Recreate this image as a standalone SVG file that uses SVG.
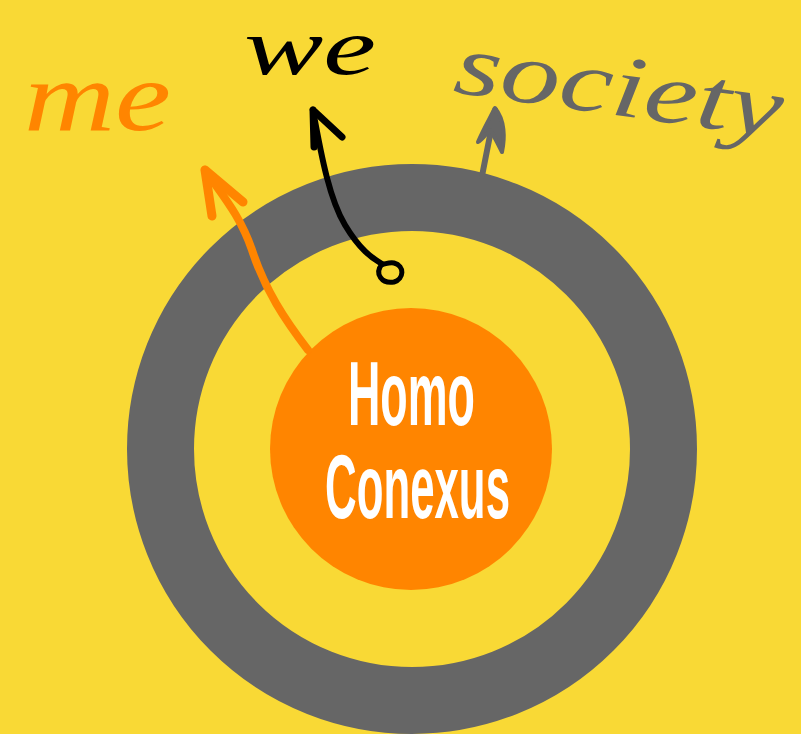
<svg xmlns="http://www.w3.org/2000/svg" width="801" height="734" viewBox="0 0 801 734">
<style>
.script{font-family:"Liberation Serif","DejaVu Serif",serif;font-style:italic;font-weight:normal}
.title{font-family:"Liberation Sans","Arial",sans-serif;font-weight:bold;fill:#ffffff;font-size:90px}
.arr{fill:none;stroke-linecap:round;stroke-linejoin:round}
</style>
<rect width="801" height="734" fill="#F9D935"/>
<g id="ring-society">
<circle cx="412" cy="449" r="251.5" fill="none" stroke="#666666" stroke-width="67"/>
</g>
<g id="core">
<circle cx="411" cy="449" r="141" fill="#FF8500"/>
<text class="title" x="411.5" y="425" text-anchor="middle" textLength="127" lengthAdjust="spacingAndGlyphs">Homo</text>
<text class="title" x="417.5" y="518" text-anchor="middle" textLength="185" lengthAdjust="spacingAndGlyphs">Conexus</text>
</g>
<g id="label-me">
<text class="script" x="24" y="130" font-size="100" fill="#FF8500" textLength="147" lengthAdjust="spacingAndGlyphs">me</text>
</g>
<g id="label-we">
<text class="script" x="244" y="74" font-size="80" fill="#000000" textLength="132" lengthAdjust="spacingAndGlyphs">we</text>
</g>
<g id="label-society">
<text class="script" x="452" y="92" font-size="88" fill="#666666" textLength="330" lengthAdjust="spacingAndGlyphs" transform="rotate(8 452 92)">society</text>
</g>
<g id="connectors">
<path class="arr" stroke="#FF8500" stroke-width="8" d="M308 350 C285 320 265 290 252 250 C240 215 222 195 205 170"/>
<path class="arr" stroke="#FF8500" stroke-width="9" d="M205 170 L212 216 M205 170 L243 202"/>
<path class="arr" stroke="#000000" stroke-width="6" d="M313 110 C322 160 330 200 345 225 C360 250 372 258 382 264"/>
<path class="arr" stroke="#000000" stroke-width="5" d="M382 264 C374 274 382 284 394 282 C404 279 405 266 394 263 C388 262 384 265 382 264"/>
<path class="arr" stroke="#000000" stroke-width="7" d="M313 110 L314 147 M313 110 L342 137"/>
<path class="arr" stroke="#666666" stroke-width="6" d="M482 176 L495 110"/>
<path fill="#666666" stroke="#666666" stroke-width="4" stroke-linejoin="round" d="M495 108 C505 120 505 138 502 152 C496 140 492 132 490 130 C486 134 482 140 478 142 C483 130 490 118 495 108 Z"/>
</g>
</svg>
